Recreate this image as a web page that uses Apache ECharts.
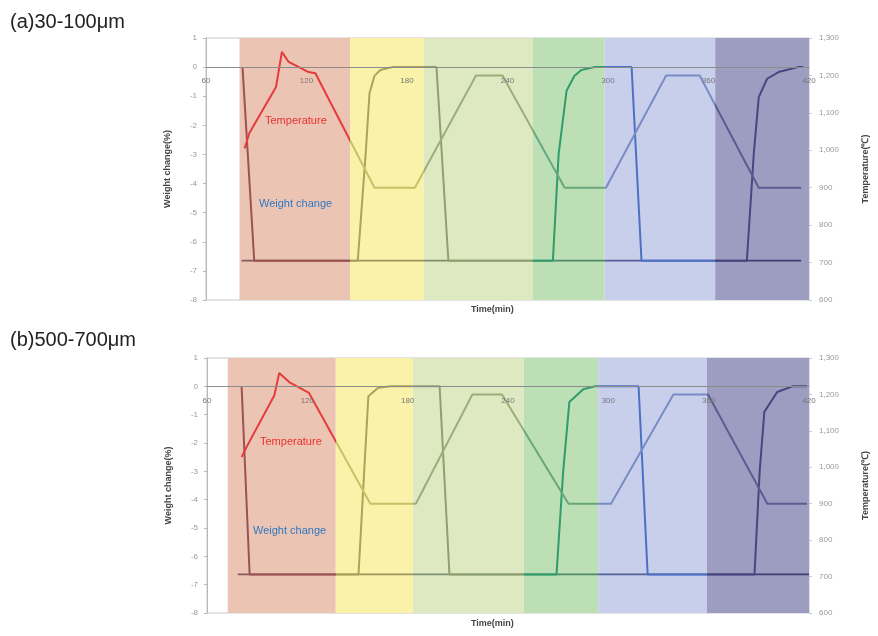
<!DOCTYPE html>
<html>
<head>
<meta charset="utf-8">
<script src="https://cdn.jsdelivr.net/npm/echarts@6/dist/echarts.min.js"></script>
<style>
  html, body { margin: 0; padding: 0; background: #fff; }
  #main { width: 878px; height: 636px; }
</style>
</head>
<body>
<div id="main"></div>
<script>
// ---- data: [time(min), value] ----
var weightA = [[81.8,0],[88.8,-6.65],[150.6,-6.65],[155.3,-3],[157.6,-0.9],[160.6,-0.3],[164.1,-0.1],[171.2,0],[197.6,0],[204.7,-6.65],
  [267.1,-6.65],[270.5,-3],[275.3,-0.8],[280,-0.3],[284.1,-0.1],[291.8,0],[314.1,0],[320,-6.65],
  [382.9,-6.65],[387,-3],[390,-1.03],[395,-0.4],[401.8,-0.17],[413.5,0],[416.5,0]];
var tempA = [[83,1005],[84.1,1020],[85.9,1046],[101.8,1169],[105.3,1263],[109.4,1236],[121.2,1209],[125.3,1206],[160.6,900],[184.7,900],
  [221.2,1200],[237,1200],[274.1,900],[298.8,900],[334.7,1200],[354.7,1200],[390,900],[415.3,900]];
var baseA = [[81.2,-6.65],[415.3,-6.65]];
var bandEdgesA = [80, 146, 190, 255, 298, 364, 420];

var weightB = [[80.7,0],[85.5,-6.64],[150.6,-6.64],[154,-3],[156.5,-0.35],[162.4,-0.05],[170,0],[199.1,0],[205,-6.64],
  [269,-6.64],[273,-3],[276.7,-0.55],[285,-0.1],[292,0],[318.1,0],[323.5,-6.64],
  [387.4,-6.64],[390.5,-3],[393.3,-0.9],[401,-0.2],[410,0],[418.8,0]];
var tempB = [[80.7,1028],[83.7,1056],[100.3,1198],[103.2,1259],[109.1,1234],[121,1204],[157.7,900],[184.9,900],
  [218.7,1200],[236.4,1200],[276.2,900],[301.6,900],[338.9,1200],[359.6,1200],[395.1,900],[418.8,900]];
var baseB = [[78.4,-6.64],[420,-6.64]];
var bandEdgesB = [72.4, 137, 183, 249.5, 294, 359, 420];

// band and line colours, one per band
var bandColors = ['#ecc4b4', '#f9f2a8', '#dfe9c1', '#bcdfb6', '#c7cfeb', '#9d9dc1'];
var weightColors = ['#9a5252', '#aaa35a', '#8fa070', '#2f9c6c', '#4d70c4', '#45477f'];
var tempColors = ['#e53b3b', '#c9c068', '#9aae7c', '#6aa67c', '#7a8cc4', '#5c5c92'];
var baseColors = ['#8a5a5a', '#9a9560', '#7f9070', '#4f8a6a', '#56609a', '#3e3e70'];

function bandAreas(edges) {
  var out = [];
  for (var i = 0; i < edges.length - 1; i++) {
    out.push([{ xAxis: edges[i], itemStyle: { color: bandColors[i] } }, { xAxis: edges[i + 1] }]);
  }
  return out;
}
function pieces(edges, colors) {
  var p = [{ lt: edges[1], color: colors[0] }];
  for (var i = 1; i < edges.length - 2; i++) p.push({ gte: edges[i], lt: edges[i + 1], color: colors[i] });
  p.push({ gte: edges[edges.length - 2], color: colors[colors.length - 1] });
  return p;
}

var labelFont = 'Liberation Sans';
// time axis sits on the weight = 0 line; offset lifts it from the grid bottom (8 of 9 units)
function xAxisOf(idx, plotHeight) {
  return {
    type: 'value', gridIndex: idx, min: 60, max: 420, interval: 60, z: 5,
    position: 'bottom', offset: -plotHeight * 8 / 9,
    axisLine: { onZero: false, lineStyle: { color: '#8c8c8c', width: 1 } },
    axisTick: { show: false },
    axisLabel: { fontSize: 8, color: '#777', margin: 10, fontFamily: labelFont },
    splitLine: { show: false }
  };
}
function leftAxisOf(idx) {
  return {
    type: 'value', gridIndex: idx, position: 'left', min: -8, max: 1, interval: 1, z: 5,
    name: 'Weight change(%)', nameLocation: 'middle', nameRotate: 90, nameGap: 34,
    nameTextStyle: { fontSize: 9, fontWeight: 'bold', color: '#444', fontFamily: labelFont },
    axisLine: { show: true, lineStyle: { color: '#b8b8b8' } },
    axisTick: { show: true, length: 3, lineStyle: { color: '#b8b8b8' } },
    axisLabel: { fontSize: 8, color: '#999', margin: 9, fontFamily: labelFont },
    splitLine: { show: false }
  };
}
function rightAxisOf(idx) {
  return {
    type: 'value', gridIndex: idx, position: 'right', min: 600, max: 1300, interval: 100, z: 5,
    name: 'Temperature(℃)', nameLocation: 'middle', nameRotate: 90, nameGap: 52,
    nameTextStyle: { fontSize: 9, fontWeight: 'bold', color: '#444', fontFamily: labelFont },
    axisLine: { show: false },
    axisTick: { show: true, length: 3, lineStyle: { color: '#c8c8c8' } },
    axisLabel: { fontSize: 8, color: '#999', margin: 10, fontFamily: labelFont },
    splitLine: { show: false }
  };
}
function lineSeries(data, xi, yi, width) {
  return {
    type: 'line', xAxisIndex: xi, yAxisIndex: yi, data: data,
    showSymbol: false, symbol: 'none', smooth: false, silent: true,
    lineStyle: { width: width }
  };
}

var chart = echarts.init(document.getElementById('main'));

var baseSeriesA = lineSeries(baseA, 0, 0, 1.8);
baseSeriesA.markArea = { silent: true, data: bandAreas(bandEdgesA) };
var baseSeriesB = lineSeries(baseB, 1, 2, 1.8);
baseSeriesB.markArea = { silent: true, data: bandAreas(bandEdgesB) };

chart.setOption({
  backgroundColor: '#fff',
  animation: false,
  title: [
    { text: '(a)30-100μm', left: 5, top: 7, textStyle: { fontSize: 20, fontWeight: 'normal', color: '#222', fontFamily: labelFont } },
    { text: '(b)500-700μm', left: 5, top: 325, textStyle: { fontSize: 20, fontWeight: 'normal', color: '#222', fontFamily: labelFont } }
  ],
  grid: [
    { left: 206, top: 38, width: 612, height: 262, show: true, borderColor: '#c8c8c8', borderWidth: 1, backgroundColor: '#fff' },
    { left: 207, top: 358, width: 608, height: 255, show: true, borderColor: '#c8c8c8', borderWidth: 1, backgroundColor: '#fff' }
  ],
  xAxis: [xAxisOf(0, 262), xAxisOf(1, 255)],
  yAxis: [leftAxisOf(0), rightAxisOf(0), leftAxisOf(1), rightAxisOf(1)],
  visualMap: [
    { show: false, type: 'piecewise', dimension: 0, seriesIndex: 0, pieces: pieces(bandEdgesA, baseColors) },
    { show: false, type: 'piecewise', dimension: 0, seriesIndex: 1, pieces: pieces(bandEdgesA, weightColors) },
    { show: false, type: 'piecewise', dimension: 0, seriesIndex: 2, pieces: pieces(bandEdgesA, tempColors) },
    { show: false, type: 'piecewise', dimension: 0, seriesIndex: 3, pieces: pieces(bandEdgesB, baseColors) },
    { show: false, type: 'piecewise', dimension: 0, seriesIndex: 4, pieces: pieces(bandEdgesB, weightColors) },
    { show: false, type: 'piecewise', dimension: 0, seriesIndex: 5, pieces: pieces(bandEdgesB, tempColors) }
  ],
  series: [
    baseSeriesA,
    lineSeries(weightA, 0, 0, 2),
    lineSeries(tempA, 0, 1, 2),
    baseSeriesB,
    lineSeries(weightB, 1, 2, 2),
    lineSeries(tempB, 1, 3, 2)
  ],
  graphic: [
    { type: 'text', left: 265, top: 115, z: 10, style: { text: 'Temperature', fill: '#e8312f', font: '11px "Liberation Sans"' } },
    { type: 'text', left: 259, top: 198, z: 10, style: { text: 'Weight change', fill: '#2e78c0', font: '11px "Liberation Sans"' } },
    { type: 'text', left: 471, top: 305, z: 10, style: { text: 'Time(min)', fill: '#444', font: 'bold 9px "Liberation Sans"' } },
    { type: 'text', left: 260, top: 436, z: 10, style: { text: 'Temperature', fill: '#e8312f', font: '11px "Liberation Sans"' } },
    { type: 'text', left: 253, top: 525, z: 10, style: { text: 'Weight change', fill: '#2e78c0', font: '11px "Liberation Sans"' } },
    { type: 'text', left: 471, top: 619, z: 10, style: { text: 'Time(min)', fill: '#444', font: 'bold 9px "Liberation Sans"' } }
  ]
});
</script>
</body>
</html>
